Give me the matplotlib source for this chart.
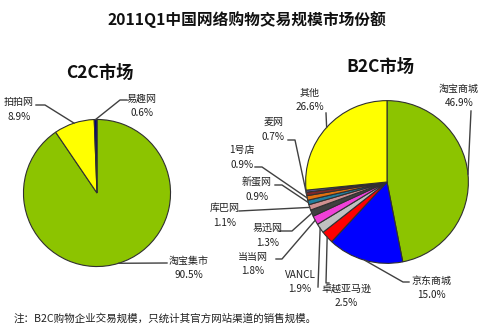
import numpy as np
import matplotlib
matplotlib.use("Agg")
import matplotlib.pyplot as plt

plt.rcParams['font.family'] = ['Noto Sans CJK SC', 'DejaVu Sans']

# C2C market share (%)
c2c_names = ['淘宝集市', '拍拍网', '易趣网']
c2c_share = [90.5, 8.9, 0.6]
c2c_colors = ['#8cc400', '#ffff00', '#000080']

# B2C market share (%), clockwise from top
b2c_names = ['淘宝商城', '京东商城', '卓越亚马逊', 'VANCL', '当当网', '易迅网',
             '库巴网', '新蛋网', '1号店', '麦网', '', '其他']
b2c_share = [46.9, 15.0, 2.5, 1.9, 1.8, 1.3, 1.1, 0.9, 0.9, 0.7, 0.4, 26.6]
b2c_colors = ['#8cc400', '#0000ff', '#ff0000', '#c0c0c0', '#f040d8', '#404040',
              '#d09090', '#1f7f9f', '#e07010', '#802828', '#6060b0', '#ffff00']

W, H = 489, 329
fig = plt.figure(figsize=(W / 100, H / 100), dpi=100)
fig.patch.set_facecolor('white')


def pie_axes(cx, cy, r):
    # square axes in pixels, y measured from top
    return fig.add_axes([(cx - r) / W, (H - cy - r) / H, 2 * r / W, 2 * r / H])


ax1 = pie_axes(97, 193, 75)
ax2 = pie_axes(387, 182, 83)

wprops = dict(edgecolor='#303030', linewidth=0.8)
w1, _ = ax1.pie(c2c_share, colors=c2c_colors, startangle=90, counterclock=False,
                radius=1, wedgeprops=wprops)
w2, _ = ax2.pie(b2c_share, colors=b2c_colors, startangle=90, counterclock=False,
                radius=1, wedgeprops=wprops)
for a in (ax1, ax2):
    a.set_xlim(-1.02, 1.02)
    a.set_ylim(-1.02, 1.02)
    a.apply_aspect()

# overlay in pixel coordinates
ov = fig.add_axes([0, 0, 1, 1], zorder=5)
ov.set_xlim(0, W)
ov.set_ylim(H, 0)
ov.axis('off')
ov.patch.set_alpha(0)


def edge_point(ax, wedge):
    t = np.deg2rad((wedge.theta1 + wedge.theta2) / 2)
    px, py = ax.transData.transform((np.cos(t), np.sin(t)))
    return px, H - py


def label(ax, wedge, name, val, lx, ly, path):
    ex, ey = edge_point(ax, wedge)
    xs = [p[0] for p in path] + [ex]
    ys = [p[1] for p in path] + [ey]
    ov.plot(xs, ys, color='#404040', lw=1.0)
    ov.text(lx, ly, name, ha='center', va='center', fontsize=7.2, color='#202020')
    ov.text(lx, ly + 14.5, '%.1f%%' % val, ha='center', va='center', fontsize=7.2,
            color='#202020')


# C2C labels
c2c_pos = [(189, 261, [(167, 263)]),
           (19, 102, [(36, 105), (45, 105)]),
           (142, 99, [(127, 100), (120, 100)])]
for wd, n, v, (lx, ly, p) in zip(w1, c2c_names, c2c_share, c2c_pos):
    label(ax1, wd, n, v, lx, ly, p)

# B2C labels
b2c_pos = [(459, 89, [(471, 111)]),
           (431, 281, [(409, 282), (403, 282)]),
           (346, 289, [(329, 283), (326, 283)]),
           (300, 275, [(318, 287)]),
           (253, 257, [(276, 259), (282, 259)]),
           (268, 228, [(278, 231), (292, 231)]),
           (225, 208, [(239, 211)]),
           (257, 183, [(275, 185), (282, 185)]),
           (242, 150, [(255, 167), (262, 167)]),
           (273, 122, [(288, 140), (295, 140)]),
           None,
           (310, 93, [(326, 113)])]
for wd, n, v, pos in zip(w2, b2c_names, b2c_share, b2c_pos):
    if pos is None:
        continue
    lx, ly, p = pos
    label(ax2, wd, n, v, lx, ly, p)

ov.text(247, 20, '2011Q1中国网络购物交易规模市场份额', ha='center', va='center',
        fontsize=11.3, fontweight='bold', color='#101010')
ov.text(100, 73, 'C2C市场', ha='center', va='center', fontsize=12.5,
        fontweight='bold', color='#101010')
ov.text(380, 67, 'B2C市场', ha='center', va='center', fontsize=12.5,
        fontweight='bold', color='#101010')
ov.text(14, 318, '注：B2C购物企业交易规模，只统计其官方网站渠道的销售规模。',
        ha='left', va='center', fontsize=7.6, color='#202020')

fig.savefig('out.png', dpi=100)
